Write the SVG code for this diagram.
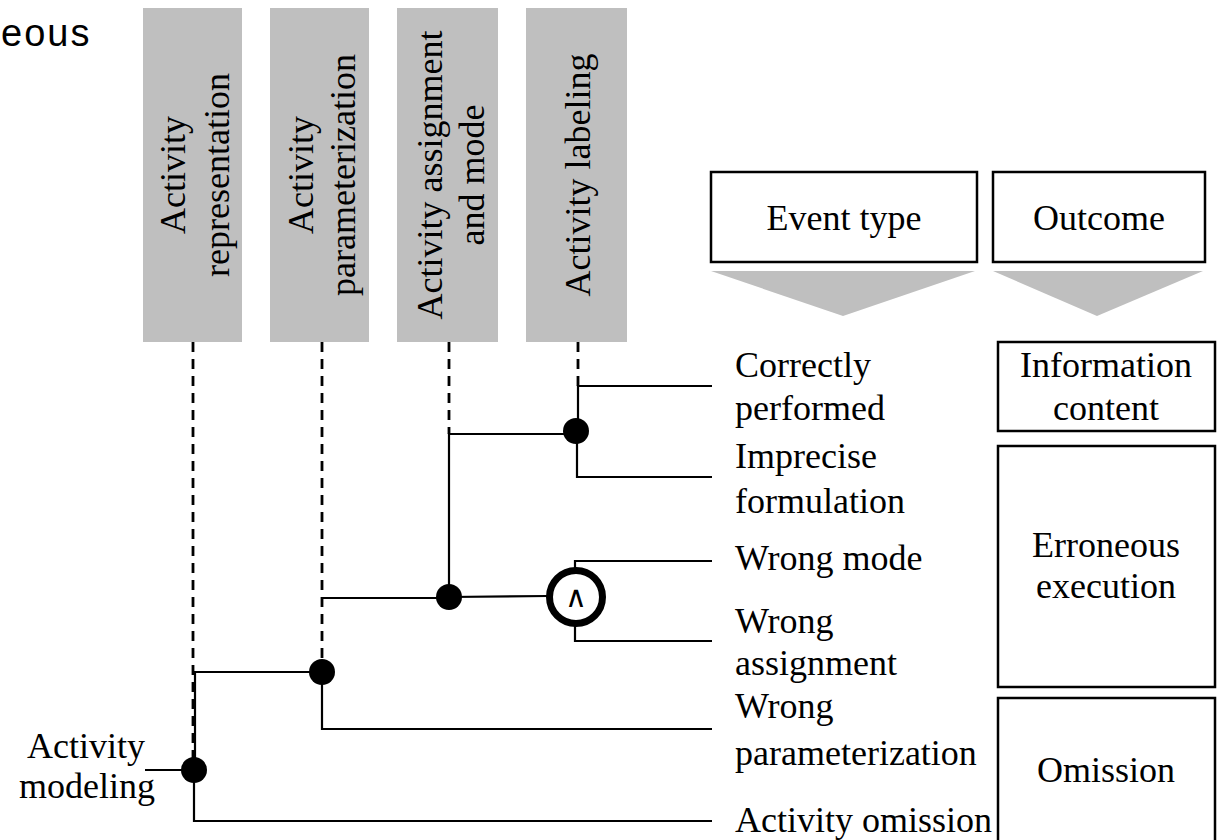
<svg xmlns="http://www.w3.org/2000/svg" width="1225" height="840" viewBox="0 0 1225 840">
  <style>
    .t { font-family: "Liberation Serif", "Times New Roman", serif; font-size: 36px; fill: #000; }
    .mid { text-anchor: middle; }
    .bar { fill: #bfbfbf; }
    .box { fill: #fff; stroke: #000; stroke-width: 2.5; }
    .chev { fill: #bfbfbf; }
    .ln { fill: none; stroke: #000; stroke-width: 2.2; }
    .dash { fill: none; stroke: #000; stroke-width: 2.8; stroke-dasharray: 10 7; }
    .dot { fill: #000; }
  </style>

  <!-- caption fragment at top left -->
  <text x="1" y="46" font-family="Liberation Sans, Arial, sans-serif" font-size="38" letter-spacing="2">eous</text>

  <!-- vertical category bars -->
  <g id="bar-representation">
    <rect class="bar" x="143" y="8" width="99" height="334"/>
    <text class="t mid" transform="translate(185,175) rotate(-90)">Activity</text>
    <text class="t mid" transform="translate(229,175) rotate(-90)">representation</text>
  </g>
  <g id="bar-parameterization">
    <rect class="bar" x="270" y="8" width="99" height="334"/>
    <text class="t mid" transform="translate(313,175) rotate(-90)">Activity</text>
    <text class="t mid" transform="translate(355,175) rotate(-90)">parameterization</text>
  </g>
  <g id="bar-assignment">
    <rect class="bar" x="397" y="8" width="101" height="334"/>
    <text class="t mid" transform="translate(442,175) rotate(-90)">Activity assignment</text>
    <text class="t mid" transform="translate(484,175) rotate(-90)">and mode</text>
  </g>
  <g id="bar-labeling">
    <rect class="bar" x="526" y="8" width="101" height="334"/>
    <text class="t mid" transform="translate(590,175) rotate(-90)">Activity labeling</text>
  </g>

  <!-- column headers -->
  <g id="head-event-type">
    <rect class="box" x="711" y="172" width="266" height="90"/>
    <text class="t mid" x="844" y="230">Event type</text>
    <polygon class="chev" points="711,271 975,271 843,316"/>
  </g>
  <g id="head-outcome">
    <rect class="box" x="993" y="172" width="212" height="90"/>
    <text class="t mid" x="1099" y="230">Outcome</text>
    <polygon class="chev" points="993,271 1203,271 1097,316"/>
  </g>

  <!-- outcome boxes -->
  <g id="out-information">
    <rect class="box" x="998" y="342" width="217" height="89"/>
    <text class="t mid" x="1106" y="377">Information</text>
    <text class="t mid" x="1106" y="420">content</text>
  </g>
  <g id="out-erroneous">
    <rect class="box" x="998" y="446" width="217" height="241"/>
    <text class="t mid" x="1106" y="557">Erroneous</text>
    <text class="t mid" x="1106" y="598">execution</text>
  </g>
  <g id="out-omission">
    <rect class="box" x="998" y="698" width="217" height="160"/>
    <text class="t mid" x="1106" y="782">Omission</text>
  </g>

  <!-- connectors -->
  <g id="connectors">
    <path class="dash" d="M193,342 V770"/>
    <path class="dash" d="M322,342 V672"/>
    <path class="dash" d="M449,342 V434"/>
    <path class="dash" d="M578,342 V386"/>

    <path class="ln" d="M145,770 H194"/>
    <path class="ln" d="M195,770 V672 H322"/>
    <path class="ln" d="M194,770 V821 H712"/>
    <path class="ln" d="M322,598 H449"/>
    <path class="ln" d="M322,672 V729 H712"/>
    <path class="ln" d="M449,597 V434 H576"/>
    <path class="ln" d="M449,597 L548,596"/>
    <path class="ln" d="M578,431 V386 H712"/>
    <path class="ln" d="M577,431 V477 H712"/>
    <path class="ln" d="M575,568 V561 H712"/>
    <path class="ln" d="M575,626 V641 H712"/>
  </g>

  <!-- junctions -->
  <g id="j-modeling"><circle class="dot" cx="194" cy="770" r="13"/></g>
  <g id="j-parameterization"><circle class="dot" cx="322" cy="672" r="13"/></g>
  <g id="j-assignment"><circle class="dot" cx="449" cy="597" r="13"/></g>
  <g id="j-labeling"><circle class="dot" cx="576" cy="431" r="13"/></g>
  <g id="and-gate">
    <circle cx="576" cy="597" r="26.5" fill="#fff" stroke="#000" stroke-width="7"/>
    <text x="576" y="607" font-family="DejaVu Sans, sans-serif" font-size="30" text-anchor="middle">∧</text>
  </g>

  <!-- root label -->
  <g id="root">
    <text class="t mid" x="86" y="758">Activity</text>
    <text class="t mid" x="87" y="798">modeling</text>
  </g>

  <!-- event type labels -->
  <g id="ev-correct">
    <text class="t" x="735" y="377">Correctly</text>
    <text class="t" x="735" y="420">performed</text>
  </g>
  <g id="ev-imprecise">
    <text class="t" x="735" y="468">Imprecise</text>
    <text class="t" x="735" y="513">formulation</text>
  </g>
  <g id="ev-mode">
    <text class="t" x="735" y="570">Wrong mode</text>
  </g>
  <g id="ev-assignment">
    <text class="t" x="735" y="633">Wrong</text>
    <text class="t" x="735" y="675">assignment</text>
  </g>
  <g id="ev-parameterization">
    <text class="t" x="735" y="718">Wrong</text>
    <text class="t" x="735" y="765">parameterization</text>
  </g>
  <g id="ev-omission">
    <text class="t" x="735" y="832">Activity omission</text>
  </g>
</svg>
